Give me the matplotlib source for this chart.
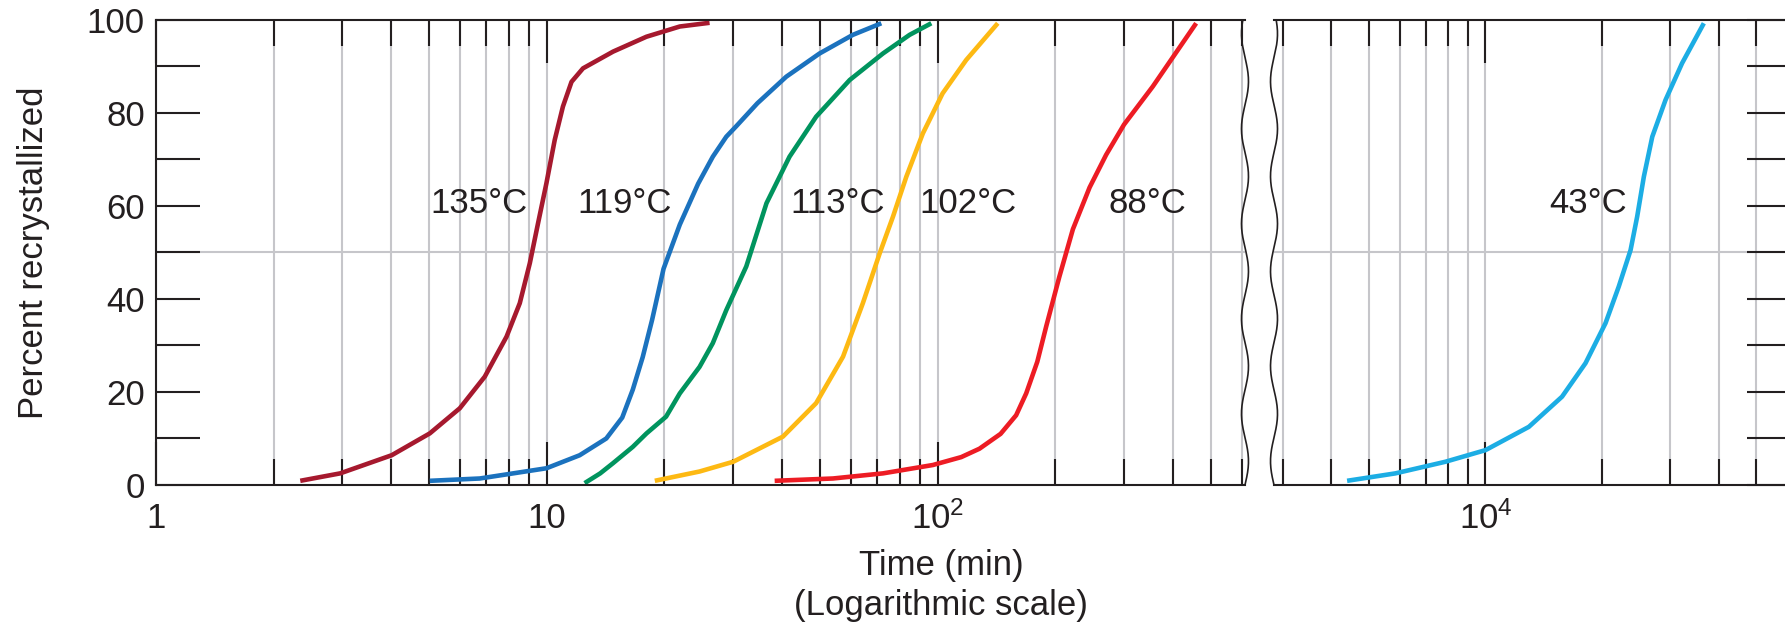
import numpy as np
import matplotlib.pyplot as plt
from matplotlib.ticker import LogLocator, MultipleLocator, NullFormatter

plt.rcParams['font.family'] = ['Liberation Sans', 'DejaVu Sans']
plt.rcParams['mathtext.fontset'] = 'custom'
plt.rcParams['mathtext.rm'] = 'Liberation Sans'

# curves: time (min) vs percent recrystallized
t_135 = [2.34, 2.96, 4.01, 5.02, 5.99, 6.94, 7.89, 8.53, 9.05, 9.50, 9.98, 10.48, 11.0,
         11.57, 12.38, 14.78, 17.99, 21.9, 26.1]
p_135 = [0.9, 2.5, 6.4, 11.1, 16.5, 23.3, 31.9, 39.1, 47.7, 56.3, 64.9, 74.2, 81.4,
         86.7, 89.6, 93.2, 96.4, 98.6, 99.4]

t_119 = [5.02, 6.74, 9.98, 12.14, 14.2, 15.6, 16.6, 17.6, 18.6, 19.9, 21.9, 24.4, 26.6,
         28.8, 30.5, 34.6, 41.0, 49.9, 60.7, 71.8]
p_119 = [0.9, 1.4, 3.6, 6.4, 10.0, 14.5, 20.5, 27.5, 35.5, 46.5, 56.0, 64.8, 70.6,
         74.9, 77.1, 82.1, 87.8, 92.8, 96.8, 99.3]

t_113 = [12.5, 13.7, 14.78, 16.6, 18.0, 20.2, 21.9, 24.6, 26.6, 28.8, 32.4, 36.5, 41.8,
         48.9, 59.6, 72.5, 84.8, 96.4]
p_113 = [0.4, 2.5, 4.7, 8.2, 11.1, 14.7, 19.7, 25.4, 30.5, 37.6, 47.0, 60.6, 70.6,
         79.2, 87.1, 92.8, 96.8, 99.3]

t_102 = [18.9, 24.6, 30.0, 40.2, 48.9, 57.3, 64.4, 71.1, 76.9, 83.2, 91.7, 103, 118.4, 142.6]
p_102 = [0.9, 2.9, 5.0, 10.4, 17.6, 27.6, 39.1, 49.8, 57.7, 66.3, 75.6, 84.2, 91.4, 99.3]

t_88 = [38.3, 54.0, 72.5, 97.3, 115, 128, 145, 158.9, 168.6, 180, 189.7, 205, 222,
        245, 270, 300, 355.5, 459]
p_88 = [0.9, 1.4, 2.5, 4.3, 6.0, 7.8, 11.0, 15.0, 19.7, 26.5, 34.1, 44.8, 55.0,
        64.0, 71.0, 77.5, 85.7, 99.3]

t_43 = [4390, 5850, 7880, 10000, 12940, 15770, 18130, 20420, 22100, 23700, 24650,
        25650, 26970, 29180, 32200, 36650]
p_43 = [0.9, 2.5, 5.0, 7.5, 12.5, 19.0, 26.2, 34.8, 42.7, 50.5, 57.7,
        66.3, 74.9, 82.8, 90.7, 99.3]

labels = ['135°C', '119°C', '113°C', '102°C', '88°C', '43°C']
label_t = [6.72, 15.8, 55.4, 119.3, 343.8, 18400]
label_p = 58.4

dark = '#231F20'
grid_c = '#C6C6CA'

fig = plt.figure(figsize=(17.85, 6.27), dpi=100)
ax1 = fig.add_axes([0.08739, 0.22648, 0.61008, 0.74163])
ax2 = fig.add_axes([0.71373, 0.22648, 0.28964, 0.74163])

kw = dict(lw=3.3, solid_joinstyle='round', solid_capstyle='butt')
ax1.plot(t_135, p_135, c='#A6192E', **kw)
ax1.plot(t_119, p_119, c='#1B72BE', **kw)
ax1.plot(t_113, p_113, c='#00945E', **kw)
ax1.plot(t_102, p_102, c='#FDB913', **kw)
ax1.plot(t_88, p_88, c='#ED1C24', **kw)
ax2.plot(t_43, p_43, c='#1CADE4', **kw)

for i, lab in enumerate(labels):
    a = ax2 if i == 5 else ax1
    a.text(label_t[i], label_p, lab, ha='center', va='baseline', fontsize=25, color=dark)

for a in (ax1, ax2):
    a.set_xscale('log')
    a.set_ylim(0, 100)
    a.set_axisbelow(True)
    a.xaxis.set_minor_locator(LogLocator(base=10, subs=np.arange(2, 10), numticks=20))
    a.xaxis.set_minor_formatter(NullFormatter())
    a.yaxis.set_major_locator(MultipleLocator(20))
    a.yaxis.set_minor_locator(MultipleLocator(10))
    a.grid(True, which='both', axis='x', color=grid_c, lw=1.5)
    a.axhline(50, color=grid_c, lw=1.5, zorder=0)
    a.tick_params(axis='x', which='major', direction='in', length=31, width=1.5,
                  top=True, bottom=True, labelsize=25, labelcolor=dark, pad=12, color=dark)
    a.tick_params(axis='x', which='minor', direction='in', length=19, width=1.5,
                  top=True, bottom=True, color=dark)
    a.tick_params(axis='y', which='both', direction='in', length=32, width=1.5,
                  labelsize=25, labelcolor=dark, pad=8, color=dark)
    for s in a.spines.values():
        s.set_linewidth(1.5)
        s.set_color(dark)

ax1.set_xlim(1, 612)
ax1.set_xticks([1, 10, 100])
ax1.set_xticklabels(['1', '10', r'$\mathregular{10^2}$'])
ax1.spines['right'].set_visible(False)
ax1.tick_params(axis='y', which='both', left=True, right=False)

ax2.set_xlim(2842, 61560)
ax2.set_xticks([1e4])
ax2.set_xticklabels([r'$\mathregular{10^4}$'])
ax2.spines['left'].set_visible(False)
ax2.tick_params(axis='y', which='both', left=False, right=True, labelleft=False)

# wavy break lines
yy = np.linspace(0, 1, 300)
h = 465.0
wave = 3.5 * np.sin(2 * np.pi * yy * h / 95.0)
ax1.plot(1 + wave / 1089.0, yy, transform=ax1.transAxes, c=dark, lw=1.2, clip_on=False)
ax2.plot(0 - wave / 517.0, yy, transform=ax2.transAxes, c=dark, lw=1.2, clip_on=False)

fig.text(33.5 / 1785, 1 - 252.5 / 627, 'Percent recrystallized', rotation=90,
         ha='center', va='center', fontsize=25, color=dark)
fig.text(941 / 1785, 1 - 566 / 627, 'Time (min)', ha='center', va='center',
         fontsize=25, color=dark)
fig.text(941 / 1785, 1 - 605 / 627, '(Logarithmic scale)', ha='center', va='center',
         fontsize=25, color=dark)

fig.savefig('out.png', dpi=100)
